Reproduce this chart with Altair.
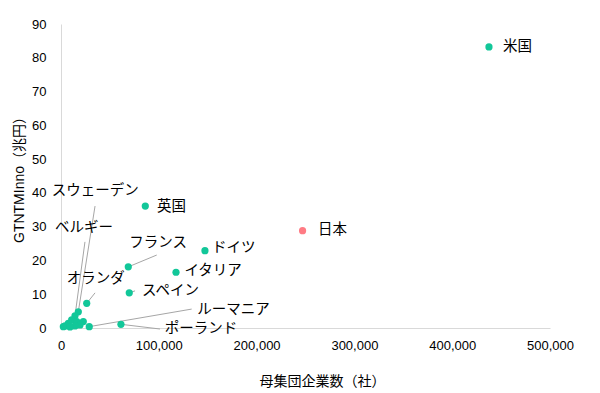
import altair as alt
import pandas as pd

# Scatter points
names = ["米国", "日本", "英国", "ドイツ", "イタリア", "フランス", "スペイン", "ポーランド",
         "オランダ", "ルーマニア", "スウェーデン", "ベルギー",
         "", "", "", "", "", "", "", "", ""]
firms = [437600, 247000, 86200, 147200, 117600, 68800, 69800, 61300,
         26300, 28900, 17700, 14300,
         10900, 7500, 4100, 16100, 22800, 19400, 14300, 2400, 9200]
gtntm = [83.2, 28.8, 36.1, 22.9, 16.5, 18.1, 10.4, 1.1,
         7.3, 0.4, 4.8, 3.6,
         2.4, 1.4, 0.6, 1.9, 1.9, 0.9, 0.6, 0.4, 0.3]
group = ["他国"] * len(names)
group[1] = "日本"

# Label anchor positions (data units, left-aligned text)
label_names = ["米国", "日本", "英国", "ドイツ", "イタリア", "フランス", "スペイン",
               "ポーランド", "オランダ", "ルーマニア", "スウェーデン", "ベルギー"]
label_x = [451900, 262800, 98200, 154500, 126200, 69700, 82900,
           106000, 5800, 139300, -9500, -6200]
label_y = [83.2, 29.0, 35.9, 23.8, 17.0, 25.3, 10.9,
           -0.3, 14.4, 5.4, 40.6, 29.6]

# Leader lines: start (near label) -> end (point)
leader_names = ["スウェーデン", "ベルギー", "フランス", "オランダ", "スペイン", "ルーマニア", "ポーランド"]
leader_x1 = [34800, 24500, 97900, 34800, 75700, 133600, 101200]
leader_y1 = [36.1, 25.5, 21.6, 10.4, 11.0, 5.6, -0.3]

pts = pd.DataFrame({"name": names, "firms": firms, "gtntm": gtntm, "group": group})
labs = pd.DataFrame({"name": label_names, "lx": label_x, "ly": label_y})
pt_lookup = {n: (f, g) for n, f, g in zip(names, firms, gtntm) if n}
lead = pd.DataFrame({
    "name": leader_names,
    "x1": leader_x1,
    "y1": leader_y1,
    "x2": [pt_lookup[n][0] for n in leader_names],
    "y2": [pt_lookup[n][1] for n in leader_names],
})

FONT = "Arial, 'Liberation Sans', 'Noto Sans CJK JP'"

xscale = alt.Scale(domain=[0, 500000], nice=False)
yscale = alt.Scale(domain=[0, 90], nice=False)

xaxis = alt.Axis(
    title="母集団企業数（社）", values=[0, 100000, 200000, 300000, 400000, 500000],
    labelExpr="format(datum.value, ',.0f')", grid=False, ticks=False, labelFlush=False,
    domainColor="#d9d9d9", labelPadding=11,
    labelFontSize=13, labelColor="#000000", labelFont=FONT,
    titleFont=FONT, titleFontSize=14, titleFontWeight="normal", titleColor="#000000",
    titleX=261, titleY=53, titleBaseline="middle", titleAlign="center",
)
yaxis = alt.Axis(
    title="GTNTMInno（兆円）", values=list(range(0, 91, 10)), labelFlush=False,
    grid=False, ticks=False, domainColor="#d9d9d9", labelPadding=15,
    labelFontSize=13, labelColor="#000000", labelFont=FONT,
    titleFont=FONT, titleFontSize=14, titleFontWeight="normal", titleColor="#000000",
    titleX=-42, titleY=152, titleBaseline="middle", titleAlign="center", titleAngle=-90,
)

rules = alt.Chart(lead).mark_rule(color="#a6a6a6", strokeWidth=1).encode(
    x=alt.X("x1:Q", scale=xscale, axis=xaxis),
    y=alt.Y("y1:Q", scale=yscale, axis=yaxis),
    x2="x2:Q",
    y2="y2:Q",
)

points = alt.Chart(pts).mark_circle(size=52, opacity=1).encode(
    x=alt.X("firms:Q", scale=xscale, axis=xaxis),
    y=alt.Y("gtntm:Q", scale=yscale, axis=yaxis),
    color=alt.Color("group:N", scale=alt.Scale(domain=["他国", "日本"],
                                                range=["#12c799", "#ff7b84"]), legend=None),
)

texts = alt.Chart(labs).mark_text(
    align="left", baseline="middle", fontSize=14.5, font=FONT, color="#000000"
).encode(
    x=alt.X("lx:Q", scale=xscale, axis=xaxis),
    y=alt.Y("ly:Q", scale=yscale, axis=yaxis),
    text="name:N",
)

chart = alt.layer(rules, points, texts).properties(
    width=489, height=304,
    autosize=alt.AutoSizeParams(type="none"),
    padding={"left": 53, "top": 16, "right": 42, "bottom": 65},
    background="#ffffff",
).configure_view(stroke=None)

chart.save("out.html", embed_options={"renderer": "svg", "actions": False})
